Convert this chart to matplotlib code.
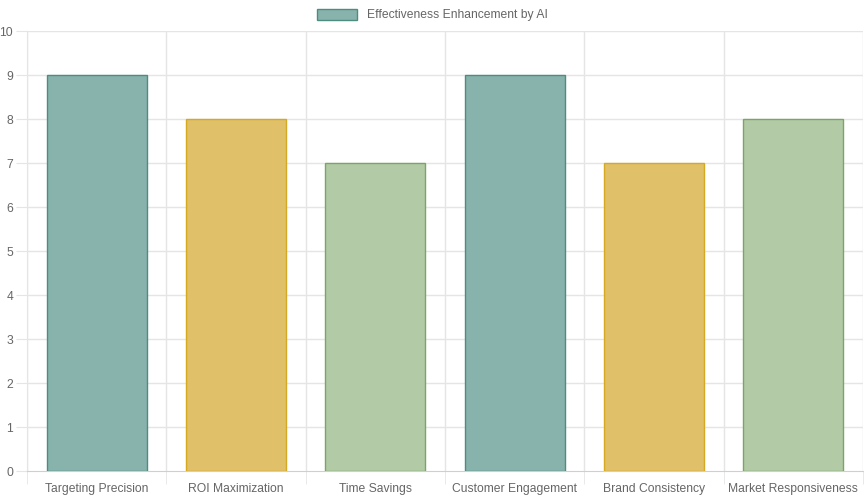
import matplotlib.pyplot as plt

categories = ["Targeting Precision", "ROI Maximization", "Time Savings",
              "Customer Engagement", "Brand Consistency", "Market Responsiveness"]
values = [9, 8, 7, 9, 7, 8]
fills = ["#88b3ad", "#e0c068", "#b2cba6", "#88b3ad", "#e0c068", "#b2cba6"]
edges = ["#4e8c80", "#d6a922", "#7aa564", "#4e8c80", "#d6a922", "#7aa564"]

plt.rcParams['font.family'] = ['Liberation Sans', 'DejaVu Sans']

fig = plt.figure(figsize=(8.64, 5), dpi=100)
ax = fig.add_axes([27/864, 29/500, 836/864, 440/500])

x = range(len(categories))
bars = ax.bar(x, values, width=0.72, color=fills, edgecolor=edges, linewidth=1,
              label="Effectiveness Enhancement by AI", zorder=3)

ax.set_xlim(-0.5, len(categories) - 0.5)
ax.set_ylim(0, 10)
ax.set_yticks(range(0, 11))
ax.set_xticks(x)
ax.set_xticklabels(categories, va="baseline")
ax.set_xticks([i - 0.5 for i in range(len(categories) + 1)], minor=True)

ax.grid(False)
for i in range(len(categories) + 1):
    ax.axvline(i - 0.5, color="#e5e5e5", lw=1, zorder=0)
for v in range(1, 11):
    ax.axhline(v, color="#e5e5e5", lw=1, zorder=0)

for s in ax.spines.values():
    s.set_visible(False)
ax.spines['bottom'].set_visible(True)
ax.spines['bottom'].set_color("#cfcfcf")
ax.spines['left'].set_visible(True)
ax.spines['left'].set_color("#e5e5e5")

ax.tick_params(axis='x', which='major', length=0, pad=15, labelsize=8.7, colors="#666666")
ax.tick_params(axis='x', which='minor', length=9, color="#e5e5e5")
ax.tick_params(axis='y', length=8, color="#e5e5e5", labelsize=8.7, labelcolor="#666666", pad=2)

leg = ax.legend(loc="lower center", bbox_to_anchor=(0.485, 1.0), frameon=False,
                fontsize=8.7, handlelength=3.3, handleheight=1.0, borderaxespad=0.4)
for t in leg.get_texts():
    t.set_color("#666666")

fig.savefig("out.png", dpi=100)
